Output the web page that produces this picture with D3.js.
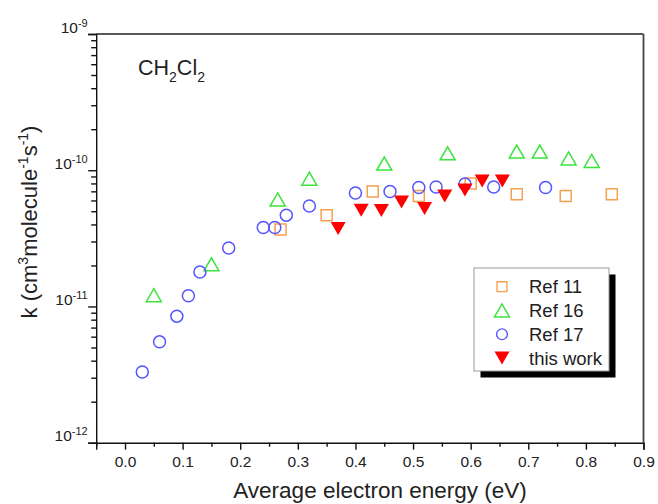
<!DOCTYPE html>
<html>
<head>
<meta charset="utf-8">
<script src="https://cdn.jsdelivr.net/npm/d3@7"></script>
<style>
  body { margin: 0; background: #fff; }
  svg { display: block; font-family: "Liberation Sans", Arial, sans-serif; }
</style>
</head>
<body>
<svg id="chart"></svg>
<script>
// 1. Datos
const ref11X = [0.27, 0.35, 0.43, 0.51, 0.60, 0.68, 0.765, 0.845];
const ref11Y = [3.68e-11, 4.68e-11, 6.98e-11, 6.47e-11, 7.98e-11, 6.67e-11, 6.48e-11, 6.67e-11];

const ref16X = [0.05, 0.15, 0.265, 0.32, 0.45, 0.56, 0.68, 0.72, 0.77, 0.81];
const ref16Y = [1.21e-11, 2.04e-11, 6.1e-11, 8.66e-11, 1.12e-10, 1.33e-10, 1.37e-10, 1.37e-10, 1.22e-10, 1.17e-10];

const ref17X = [0.03, 0.06, 0.09, 0.11, 0.13, 0.18, 0.24, 0.26, 0.28, 0.32, 0.40, 0.46, 0.51, 0.54, 0.59, 0.64, 0.73];
const ref17Y = [3.3e-12, 5.5e-12, 8.49e-12, 1.2e-11, 1.79e-11, 2.69e-11, 3.8e-11, 3.8e-11, 4.68e-11, 5.47e-11,
  6.81e-11, 6.99e-11, 7.46e-11, 7.54e-11, 7.92e-11, 7.54e-11, 7.46e-11];

const thisWorkX = [0.37, 0.41, 0.445, 0.48, 0.52, 0.555, 0.59, 0.62, 0.655];
const thisWorkY = [3.73e-11, 5.09e-11, 5.07e-11, 5.85e-11, 5.24e-11, 6.48e-11, 7.17e-11, 8.33e-11, 8.33e-11];

const xTicks = [0.0, 0.1, 0.2, 0.3, 0.4, 0.5, 0.6, 0.7, 0.8, 0.9];
const xMinorTicks = [-0.05, 0.05, 0.15, 0.25, 0.35, 0.45, 0.55, 0.65, 0.75, 0.85];
const yTicks = [1e-12, 1e-11, 1e-10, 1e-9];
const yTickExp = ["-12", "-11", "-10", "-9"];
const legendNames = ["Ref 11", "Ref 16", "Ref 17", "this work"];

// 2. Tamanos
const width = 658, height = 504;
const margin = { top: 34, right: 14.5, bottom: 61.3, left: 96.2 };

const svg = d3.select("#chart").attr("width", width).attr("height", height);

const x = d3.scaleLinear().domain([-0.05, 0.9]).range([margin.left, width - margin.right]);
const y = d3.scaleLog().domain([1e-12, 1e-9]).range([height - margin.bottom, margin.top]);

// 3. Marcadores
const mk = {
  square: (s) => `M${-s / 2},${-s / 2}h${s}v${s}h${-s}Z`,
  up: (w, h) => `M0,${-h / 2}L${w / 2},${h / 2}L${-w / 2},${h / 2}Z`,
  down: (w, h) => `M0,${h / 2}L${w / 2},${-h / 2}L${-w / 2},${-h / 2}Z`,
};
const series = [
  { xs: ref11X, ys: ref11Y, type: "square", color: "#f5a04f" },
  { xs: ref16X, ys: ref16Y, type: "up", color: "#3be33b" },
  { xs: ref17X, ys: ref17Y, type: "circle", color: "#5555ff" },
  { xs: thisWorkX, ys: thisWorkY, type: "down", color: "#ff0000" },
];

function drawMarker(g, type, color) {
  if (type === "circle") {
    g.append("circle").attr("r", 6).attr("fill", "none").attr("stroke", color).attr("stroke-width", 1.5);
  } else if (type === "square") {
    g.append("path").attr("d", mk.square(11)).attr("fill", "none").attr("stroke", color).attr("stroke-width", 1.5);
  } else if (type === "up") {
    g.append("path").attr("d", mk.up(15, 13)).attr("fill", "none").attr("stroke", color).attr("stroke-width", 1.5);
  } else {
    g.append("path").attr("d", mk.down(15, 13)).attr("fill", color);
  }
}

// 4. Ejes
const xAxis = svg.append("g").attr("transform", `translate(0,${height - margin.bottom})`)
  .call(d3.axisBottom(x).tickValues(xTicks).tickSize(7).tickFormat(d3.format(".1f")));
svg.append("g").attr("transform", `translate(0,${height - margin.bottom})`)
  .call(d3.axisBottom(x).tickValues(xMinorTicks).tickSize(4).tickFormat(""))
  .call((g) => g.select(".domain").remove());
xAxis.selectAll("text").attr("font-size", 15.5).attr("fill", "#222").attr("dy", "0.95em");

const yMinor = [];
for (let e = -12; e < -9; e++) for (let m = 2; m <= 9; m++) yMinor.push(m * Math.pow(10, e));
const yAxis = svg.append("g").attr("transform", `translate(${margin.left},0)`)
  .call(d3.axisLeft(y).tickValues(yTicks).tickSize(8).tickFormat(""));
svg.append("g").attr("transform", `translate(${margin.left},0)`)
  .call(d3.axisLeft(y).tickValues(yMinor).tickSize(5).tickFormat(""))
  .call((g) => g.select(".domain").remove());
svg.selectAll(".domain, .tick line").attr("stroke", "#111").attr("stroke-width", 1.4);

const yLab = yAxis.selectAll(".ylab").data(yTicks).join("text")
  .attr("class", "ylab")
  .attr("x", -8.5)
  .attr("y", (d) => y(d) - 1.5)
  .attr("text-anchor", "end")
  .attr("fill", "#222")
  .attr("font-size", 15.5);
yLab.text("10").append("tspan").attr("dy", -6).attr("font-size", 11).text((d, i) => yTickExp[i]);

// marco superior y derecho
svg.append("line").attr("x1", margin.left).attr("x2", width - margin.right)
  .attr("y1", margin.top).attr("y2", margin.top).attr("stroke", "#222").attr("stroke-width", 1.5);
svg.append("line").attr("x1", width - margin.right).attr("x2", width - margin.right)
  .attr("y1", margin.top).attr("y2", height - margin.bottom).attr("stroke", "#444").attr("stroke-width", 1.8);

// 5. Titulos
svg.append("text").attr("x", 380).attr("y", 498).attr("text-anchor", "middle")
  .attr("font-size", 22.5).attr("fill", "#222").text("Average electron energy (eV)");

const yTitle = svg.append("text").attr("transform", "translate(37,222) rotate(-90)")
  .attr("text-anchor", "middle").attr("font-size", 22).attr("fill", "#222");
yTitle.append("tspan").text("k (cm");
yTitle.append("tspan").attr("dy", -9).attr("font-size", 14).text("3");
yTitle.append("tspan").attr("dy", 9).text("molecule");
yTitle.append("tspan").attr("dy", -9).attr("font-size", 14).text("-1");
yTitle.append("tspan").attr("dy", 9).text("s");
yTitle.append("tspan").attr("dy", -9).attr("font-size", 14).text("-1");
yTitle.append("tspan").attr("dy", 9).text(")");

const chem = svg.append("text").attr("x", 138).attr("y", 75).attr("font-size", 21.5).attr("fill", "#222");
chem.append("tspan").text("CH");
chem.append("tspan").attr("dy", 7).attr("font-size", 14).text("2");
chem.append("tspan").attr("dy", -7).text("Cl");
chem.append("tspan").attr("dy", 7).attr("font-size", 14).text("2");

// 6. Puntos
series.forEach((s) => {
  s.xs.forEach((v, i) => {
    const g = svg.append("g").attr("transform", `translate(${x(v)},${y(s.ys[i])})`);
    drawMarker(g, s.type, s.color);
  });
});

// 7. Leyenda
const lg = svg.append("g").attr("transform", "translate(474,268)");
lg.append("rect").attr("x", 6.5).attr("y", 6.5).attr("width", 135).attr("height", 103).attr("fill", "#000");
lg.append("rect").attr("x", 0).attr("y", 0).attr("width", 135).attr("height", 103)
  .attr("fill", "#fff").attr("stroke", "#999").attr("stroke-width", 1);
series.forEach((s, i) => {
  const row = lg.append("g").attr("transform", `translate(28,${18.7 + i * 23.8})`);
  const mg = row.append("g").attr("transform", (s.type === "circle" || s.type === "square") ? "scale(0.9)" : "scale(1)");
  drawMarker(mg, s.type, s.color);
  row.append("text").attr("x", 27).attr("y", 6.5).attr("font-size", 18.5).attr("fill", "#222").text(legendNames[i]);
});
</script>
</body>
</html>
